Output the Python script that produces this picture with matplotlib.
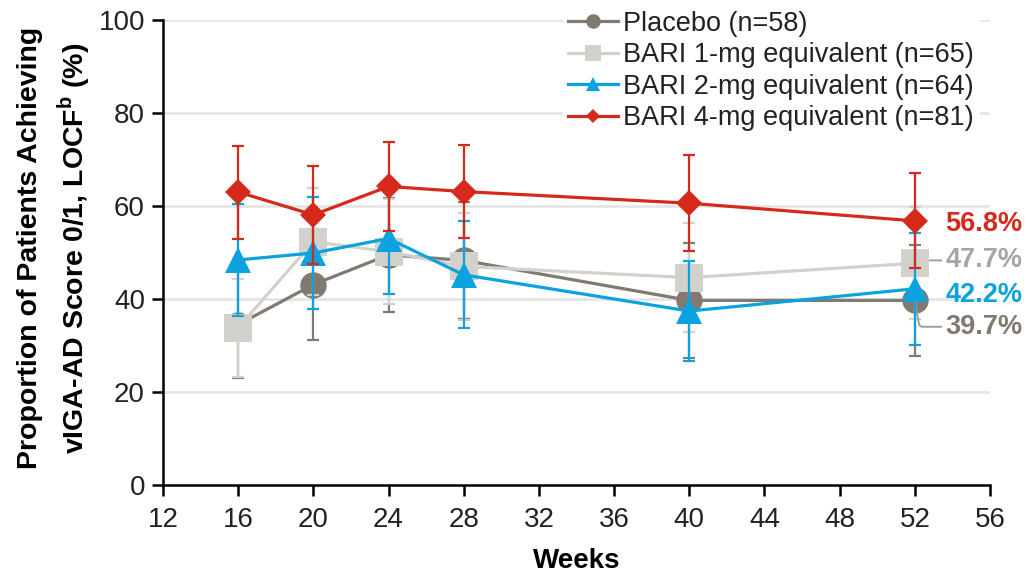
import matplotlib
matplotlib.use("Agg")
import matplotlib.pyplot as plt

plt.rcParams['font.family'] = ['Liberation Sans', 'DejaVu Sans']

weeks = [16, 20, 24, 28, 40, 52]
placebo = [34.5, 43.1, 49.5, 48.3, 39.7, 39.7]
placebo_err = [11.5, 11.9, 12.2, 12.5, 12.3, 11.9]
bari1 = [33.8, 52.3, 50.2, 47.0, 44.6, 47.7]
bari1_err = [10.5, 11.5, 11.2, 11.5, 11.8, 12.0]
bari2 = [48.4, 49.9, 53.0, 45.2, 37.4, 42.2]
bari2_err = [12.0, 12.0, 12.0, 11.5, 10.8, 12.0]
bari4 = [63.0, 58.1, 64.2, 63.1, 60.6, 56.8]
bari4_err = [10.0, 10.5, 9.6, 10.0, 10.3, 10.2]

labels = ["Placebo (n=58)", "BARI 1-mg equivalent (n=65)",
          "BARI 2-mg equivalent (n=64)", "BARI 4-mg equivalent (n=81)"]
end_labels = ["39.7%", "47.7%", "42.2%", "56.8%"]

c_pla = "#827970"
c_b1 = "#d3d1cb"
c_b2 = "#0aa3df"
c_b4 = "#d5291c"

fig = plt.figure(figsize=(10.28, 5.77), dpi=100)
ax = fig.add_axes([163/1028, 1-485/577, (990-163)/1028, (485-20)/577])

series = [
    (placebo, placebo_err, c_pla, 'o', 19, 2),
    (bari1, bari1_err, c_b1, 's', 20, 3),
    (bari2, bari2_err, c_b2, '^', 19, 4),
    (bari4, bari4_err, c_b4, 'D', 13, 5),
]
handles = []
for (vals, err, col, mk, ms, z), lab in zip(series, labels):
    ax.errorbar(weeks, vals, yerr=err, fmt='none', ecolor=col, elinewidth=1.6,
                capsize=4, capthick=1.6, zorder=z)
    ln, = ax.plot(weeks, vals, color=col, lw=2.3, marker=mk, markersize=ms,
                  markeredgewidth=0, label=lab, zorder=z + 0.5)
    handles.append(ln)

ax.set_xlim(12, 56)
ax.set_ylim(0, 100)
ax.set_xticks(range(12, 57, 4))
ax.set_yticks(range(0, 101, 20))
for y in range(20, 101, 20):
    ax.axhline(y, color="#e3e3e3", lw=1.8, zorder=0)

for s in ['top', 'right']:
    ax.spines[s].set_visible(False)
for s in ['left', 'bottom']:
    ax.spines[s].set_linewidth(1.8)
ax.tick_params(axis='both', direction='out', length=8, width=1.8,
               labelsize=20, colors='black')
ax.tick_params(axis='x', pad=8)
ax.tick_params(axis='y', pad=5)
ax.tick_params(axis='both', labelcolor='#222222')

ax.set_xlabel("Weeks", fontsize=20, fontweight='bold', labelpad=11)
ax.set_ylabel("Proportion of Patients Achieving\nvIGA-AD Score 0/1, LOCF$^{\\mathregular{b}}$ (%)",
              fontsize=20.5, fontweight='bold', linespacing=1.45)
ax.yaxis.set_label_coords(-0.085, 0.51)

leg = fig.legend(handles=handles, loc='upper left', bbox_to_anchor=(549/1028, 1+8/577),
                 fontsize=19.5, frameon=True, facecolor='white', edgecolor='none',
                 framealpha=1, labelspacing=0.2, handlelength=1.85, handletextpad=0.2,
                 borderpad=0.2, markerscale=0.55)
for t in leg.get_texts():
    t.set_color('#222222')

# end labels
ax.annotate(end_labels[3], xy=(52, bari4[5]), xytext=(22, -2), textcoords='offset points',
            color=c_b4, fontsize=19.5, fontweight='bold', va='center', ha='left',
            annotation_clip=False)
ax.annotate(end_labels[2], xy=(52, bari2[5]), xytext=(22, -4.5), textcoords='offset points',
            color=c_b2, fontsize=19.5, fontweight='bold', va='center', ha='left',
            annotation_clip=False)
ax.annotate(end_labels[1], xy=(52, bari1[5]), xytext=(22, 2), textcoords='offset points',
            color="#a6a6a6", fontsize=19.5, fontweight='bold', va='center', ha='left',
            annotation_clip=False,
            arrowprops=dict(arrowstyle='-', color='#9a9a9a', lw=1.3, shrinkA=1, shrinkB=0,
                            connectionstyle='angle,angleA=0,angleB=45,rad=3'))
ax.annotate(end_labels[0], xy=(52, placebo[5]), xytext=(22, -19), textcoords='offset points',
            color=c_pla, fontsize=19.5, fontweight='bold', va='center', ha='left',
            annotation_clip=False,
            arrowprops=dict(arrowstyle='-', color='#9a9a9a', lw=1.3, shrinkA=1, shrinkB=0,
                            connectionstyle='angle,angleA=0,angleB=-80,rad=3'))

fig.savefig("out.png", dpi=100)
